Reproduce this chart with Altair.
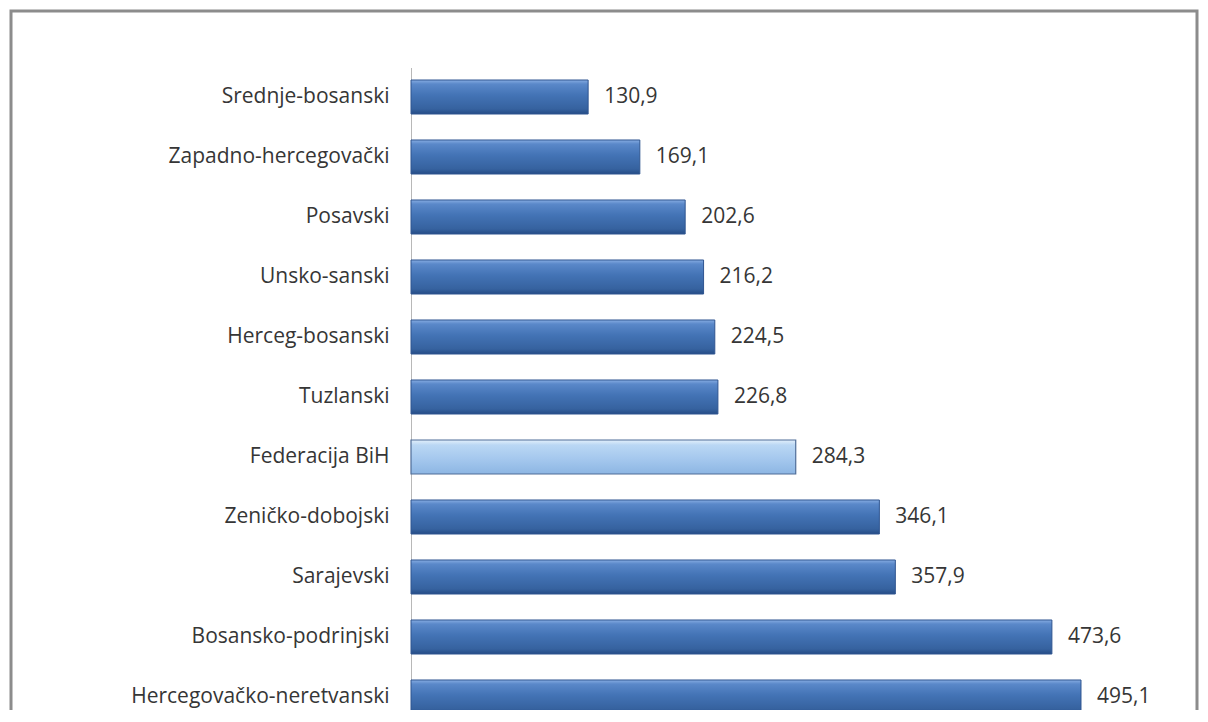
import altair as alt
import pandas as pd

regions = [
    "Srednje-bosanski",
    "Zapadno-hercegovački",
    "Posavski",
    "Unsko-sanski",
    "Herceg-bosanski",
    "Tuzlanski",
    "Federacija BiH",
    "Zeničko-dobojski",
    "Sarajevski",
    "Bosansko-podrinjski",
    "Hercegovačko-neretvanski",
]
values = [130.9, 169.1, 202.6, 216.2, 224.5, 226.8, 284.3, 346.1, 357.9, 473.6, 495.1]
highlight = "Federacija BiH"

df = pd.DataFrame({"region": regions, "value": values})

FONT = "Open Sans"
FSIZE = 21
PLOT_W = 770
PLOT_H = 642

x_enc = alt.X("value:Q", scale=alt.Scale(domain=[0, 569], nice=False, zero=True), axis=None)
y_enc = alt.Y(
    "region:N",
    sort=regions,
    title=None,
    scale=alt.Scale(range=[12, 646], paddingInner=0.4333, paddingOuter=0),
    axis=alt.Axis(
        ticks=False,
        domain=False,
        grid=False,
        labelFont=FONT,
        labelFontSize=FSIZE,
        labelColor="#363636",
        labelPadding=22,
        labelLimit=400,
    ),
)

dark_grad = alt.LinearGradient(
    gradient="linear", x1=0, y1=0, x2=0, y2=1,
    stops=[
        alt.GradientStop(color="#86ACE2", offset=0),
        alt.GradientStop(color="#5A88C9", offset=0.12),
        alt.GradientStop(color="#4373B5", offset=0.45),
        alt.GradientStop(color="#36629F", offset=0.85),
        alt.GradientStop(color="#254C86", offset=1),
    ],
)
light_grad = alt.LinearGradient(
    gradient="linear", x1=0, y1=0, x2=0, y2=1,
    stops=[
        alt.GradientStop(color="#E2EFFB", offset=0),
        alt.GradientStop(color="#BAD7F4", offset=0.15),
        alt.GradientStop(color="#A5C8EE", offset=0.55),
        alt.GradientStop(color="#8DB6E3", offset=1),
    ],
)

base = alt.Chart(df)

frame = alt.Chart(pd.DataFrame({"a": [0]})).mark_rect(
    fill=None, stroke="#8c8c8c", strokeWidth=3
).encode(
    x=alt.value(-400), x2=alt.value(786), y=alt.value(-57), y2=alt.value(700)
)

axis_line = alt.Chart(pd.DataFrame({"a": [0]})).mark_rule(
    color="#b8b8b8", strokeWidth=1
).encode(
    x=alt.value(0.5), y=alt.value(0), y2=alt.value(PLOT_H)
)

bars_dark = base.transform_filter(alt.datum.region != highlight).mark_bar(
    fill=dark_grad, stroke="#2F5590", strokeWidth=1
).encode(x=x_enc, y=y_enc)

bars_light = base.transform_filter(alt.datum.region == highlight).mark_bar(
    fill=light_grad, stroke="#4F6D98", strokeWidth=1.2
).encode(x=x_enc, y=y_enc)

labels = base.transform_calculate(
    lbl="replace(format(datum.value, '.1f'), '.', ',')"
).mark_text(
    align="left", baseline="middle", dx=16, font=FONT, fontSize=FSIZE, color="#363636"
).encode(x=x_enc, y=y_enc, text="lbl:N")

chart = alt.layer(frame, axis_line, bars_dark, bars_light, labels).properties(
    width=PLOT_W,
    height=PLOT_H,
    autosize=alt.AutoSizeParams(type="none"),
    padding={"left": 403, "top": 60, "right": 19, "bottom": 0},
    background="white",
).configure_view(stroke=None)

chart.save("out.html", embed_options={"renderer": "svg", "actions": False})
